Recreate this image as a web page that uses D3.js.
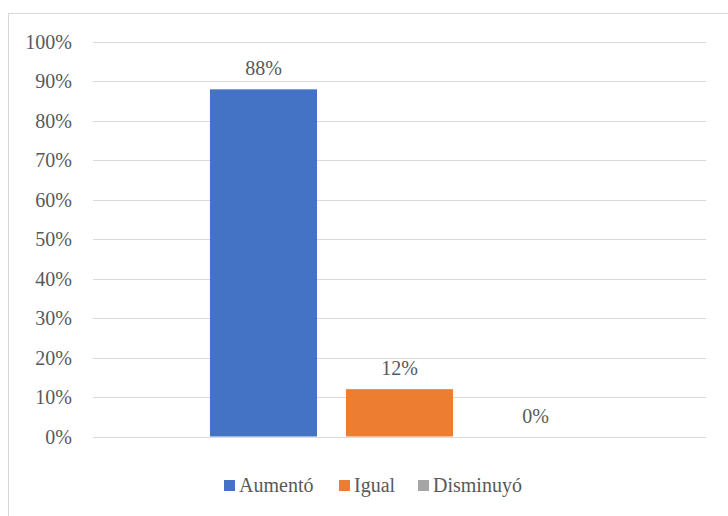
<!DOCTYPE html>
<html>
<head>
<meta charset="utf-8">
<script src="https://cdn.jsdelivr.net/npm/d3@7"></script>
<style>
  html, body { margin: 0; padding: 0; background: #fff; }
  svg { display: block; }
</style>
</head>
<body>
<svg id="chart" width="728" height="516"></svg>
<script>
// Series (one category, three series)
const seriesNames = ["Aumentó", "Igual", "Disminuyó"];
const seriesValues = [0.88, 0.12, 0.0];
const seriesColors = ["#4472C4", "#ED7D31", "#A5A5A5"];
const tickValues = [0, 0.1, 0.2, 0.3, 0.4, 0.5, 0.6, 0.7, 0.8, 0.9, 1.0];

const FONT = "Liberation Serif";
const FONT_SIZE = 20;
const TEXT_COLOR = "#595959";
const pct = d3.format(".0%");

const svg = d3.select("#chart");

// Chart area frame
svg.append("rect")
  .attr("x", 8.5).attr("y", 13.5)
  .attr("width", 740).attr("height", 520)
  .attr("fill", "#fff").attr("stroke", "#D9D9D9").attr("stroke-width", 1);

const plot = { left: 93, right: 706, top: 42, bottom: 436.5 };

const y = d3.scaleLinear().domain([0, 1]).range([plot.bottom, plot.top]);

// Series bars share the single category slot
const x = d3.scaleBand().domain(seriesNames).range([plot.left, plot.right])
  .paddingInner(0.213).paddingOuter(0.86);

// Gridlines
svg.selectAll("line.grid")
  .data(tickValues)
  .join("line")
  .attr("class", "grid")
  .attr("x1", plot.left).attr("x2", plot.right)
  .attr("y1", d => Math.round(y(d)) + 0.5).attr("y2", d => Math.round(y(d)) + 0.5)
  .attr("stroke", "#D9D9D9").attr("stroke-width", 1.2);

// Y tick labels
svg.selectAll("text.tick")
  .data(tickValues)
  .join("text")
  .attr("class", "tick")
  .attr("x", plot.left - 21)
  .attr("y", d => y(d) + 7)
  .attr("text-anchor", "end")
  .attr("font-family", FONT)
  .attr("font-size", FONT_SIZE)
  .attr("fill", TEXT_COLOR)
  .text(d => pct(d));

// Bars
svg.selectAll("rect.bar")
  .data(seriesNames)
  .join("rect")
  .attr("class", "bar")
  .attr("x", d => x(d))
  .attr("width", x.bandwidth())
  .attr("y", (d, i) => y(seriesValues[i]))
  .attr("height", (d, i) => y(0) - y(seriesValues[i]))
  .attr("fill", (d, i) => seriesColors[i]);

// Value labels
svg.selectAll("text.value")
  .data(seriesNames)
  .join("text")
  .attr("class", "value")
  .attr("x", d => x(d) + x.bandwidth() / 2)
  .attr("y", (d, i) => y(seriesValues[i]) - 14)
  .attr("text-anchor", "middle")
  .attr("font-family", FONT)
  .attr("font-size", FONT_SIZE)
  .attr("fill", TEXT_COLOR)
  .text((d, i) => pct(seriesValues[i]));

// Legend
const legendX = [224, 339, 418];
svg.selectAll("rect.key")
  .data(seriesNames)
  .join("rect")
  .attr("class", "key")
  .attr("x", (d, i) => legendX[i]).attr("y", 480)
  .attr("width", 11).attr("height", 11)
  .attr("fill", (d, i) => seriesColors[i]);
svg.selectAll("text.key")
  .data(seriesNames)
  .join("text")
  .attr("class", "key")
  .attr("x", (d, i) => legendX[i] + 15).attr("y", 492)
  .attr("font-family", FONT)
  .attr("font-size", FONT_SIZE)
  .attr("fill", TEXT_COLOR)
  .text(d => d);
</script>
</body>
</html>
